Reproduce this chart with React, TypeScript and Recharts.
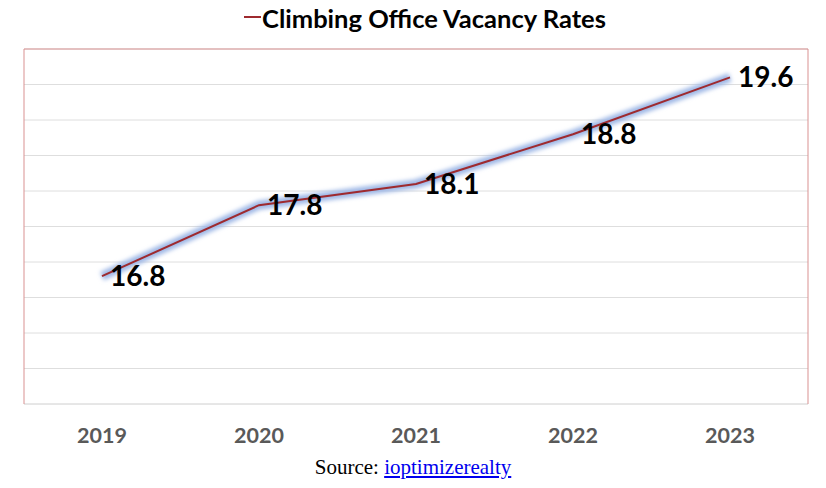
import { CartesianGrid, LabelList, Line, LineChart, XAxis, YAxis } from "recharts";

const years = ["2019", "2020", "2021", "2022", "2023"];
const vacancyRates = [16.8, 17.8, 18.1, 18.8, 19.6];
const yTicks = [15, 15.5, 16, 16.5, 17, 17.5, 18, 18.5, 19, 19.5, 20];

const data = years.map((year, i) => ({ year, rate: vacancyRates[i] }));

const LINE_RED = "#9e2a2f";
const BORDER_RED = "#d99191";

const NoTick = () => <g />;

export default function App() {
  return (
    <div
      style={{
        position: "absolute",
        left: 0,
        top: 0,
        width: 826,
        height: 488,
        background: "#fff",
        fontFamily: "Lato, 'Noto Sans', sans-serif",
      }}
    >
      <div
        style={{
          position: "absolute",
          top: 0,
          left: 0,
          width: 826,
          height: 36,
          display: "flex",
          alignItems: "center",
          justifyContent: "center",
          paddingLeft: 24,
          boxSizing: "border-box",
        }}
      >
        <span
          style={{
            display: "inline-block",
            width: 17,
            height: 2,
            background: LINE_RED,
            marginRight: 1,
            marginTop: -3,
          }}
        />
        <span style={{ fontSize: 25.5, fontWeight: 700, color: "#000" }}>
          Climbing Office Vacancy Rates
        </span>
      </div>

      <LineChart
        width={826}
        height={488}
        data={data}
        margin={{ top: 48, right: 17, bottom: 0, left: 23 }}
      >
        <defs>
          <filter id="glow" x="-10%" y="-50%" width="120%" height="200%">
            <feGaussianBlur stdDeviation="2.2" />
          </filter>
        </defs>
        <CartesianGrid vertical={false} stroke="#dedede" strokeWidth={1} />
        <XAxis
          dataKey="year"
          height={84}
          padding={{ left: 78, right: 78 }}
          axisLine={{ stroke: "#dedede" }}
          tickLine={false}
          tickSize={0}
          tickMargin={24}
          tick={{ fill: "#595959", fontSize: 21.5, fontWeight: 700 }}
        />
        <XAxis
          xAxisId="top"
          dataKey="year"
          orientation="top"
          height={1}
          tick={false}
          tickLine={false}
          axisLine={{ stroke: BORDER_RED }}
        />
        <YAxis
          domain={[15, 20]}
          ticks={yTicks}
          width={1}
          tick={NoTick}
          tickLine={false}
          axisLine={{ stroke: BORDER_RED }}
        />
        <YAxis
          yAxisId="right"
          orientation="right"
          domain={[15, 20]}
          width={1}
          tick={false}
          tickLine={false}
          axisLine={{ stroke: BORDER_RED }}
        />
        <Line
          dataKey="rate"
          stroke="#9fb8e6"
          strokeWidth={9}
          filter="url(#glow)"
          dot={false}
          activeDot={false}
          isAnimationActive={false}
        />
        <Line
          dataKey="rate"
          stroke={LINE_RED}
          strokeWidth={2}
          dot={false}
          activeDot={false}
          isAnimationActive={false}
        >
          <LabelList
            dataKey="rate"
            position="right"
            offset={8}
            fill="#000"
            fontSize={28}
            fontWeight={700}
          />
        </Line>
      </LineChart>

      <div
        style={{
          position: "absolute",
          top: 455,
          left: 0,
          width: 826,
          textAlign: "center",
          fontFamily: "'Liberation Serif', 'Times New Roman', serif",
          fontSize: 21,
          color: "#000",
        }}
      >
        Source:{" "}
        <span style={{ color: "#0000ee", textDecoration: "underline" }}>
          ioptimizerealty
        </span>
      </div>
    </div>
  );
}
